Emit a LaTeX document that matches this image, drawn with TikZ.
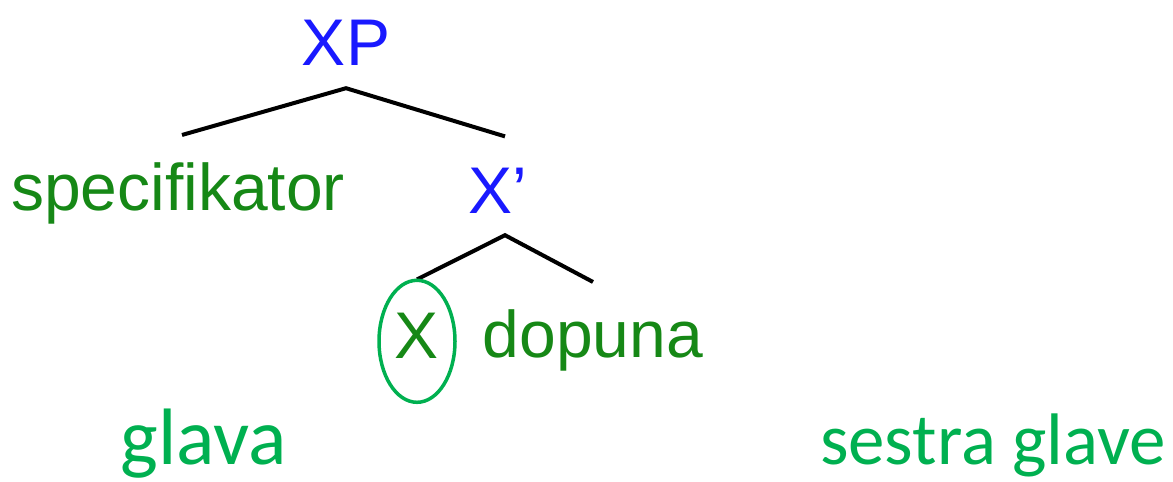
\documentclass[tikz,border=0pt]{standalone}
\usepackage{fontspec}
\setmainfont{Liberation Sans}
\newfontfamily\calibri{Carlito}
\usepackage{tikz}
\usetikzlibrary{calc}
\definecolor{xblue}{RGB}{25,25,255}
\definecolor{xgreen}{RGB}{22,136,22}
\definecolor{offgreen}{RGB}{0,176,80}
\begin{document}
\begin{tikzpicture}[x=1pt,y=-1pt,
    cat/.style={inner sep=0pt,anchor=base,text=xblue,font=\fontsize{66}{70}\selectfont},
    word/.style={inner sep=0pt,anchor=base,text=xgreen,font=\fontsize{66}{70}\selectfont},
    branch/.style={line width=4pt,black},
    lbl/.style={inner sep=0pt,anchor=base,text=offgreen}]
                      \useasboundingbox (0,0) rectangle (1173,482);
                      \node[cat](xp)at(346,65){XP};
                      \node[word](spec)at(178,210){specifikator};
                      \node[cat](xbar)at(498,213){X'};
                      \node[word](x)at(417,358){X};
                      \node[word](dop)at(593,357){dopuna};
                      \draw[branch]([xshift=4pt,yshift=27pt]spec.north)--([yshift=-23pt]xp.south)--([xshift=7pt,yshift=31pt]xbar.north);
                      \draw[branch]([yshift=33pt]x.north)--([xshift=7pt,yshift=-22pt]xbar.south)--([yshift=27pt]dop.north);
                      \draw[line width=3.5pt,offgreen]([yshift=-6pt]x.center) ellipse [x radius=38pt,y radius=61pt];
                      \node[lbl,font=\calibri\fontsize{80}{88}\selectfont](glava)at(204,464){glava};
                      \node[lbl,font=\calibri\fontsize{73}{80}\selectfont](sestra)at(993,464){sestra glave};
                  \end{tikzpicture}
\end{document}
